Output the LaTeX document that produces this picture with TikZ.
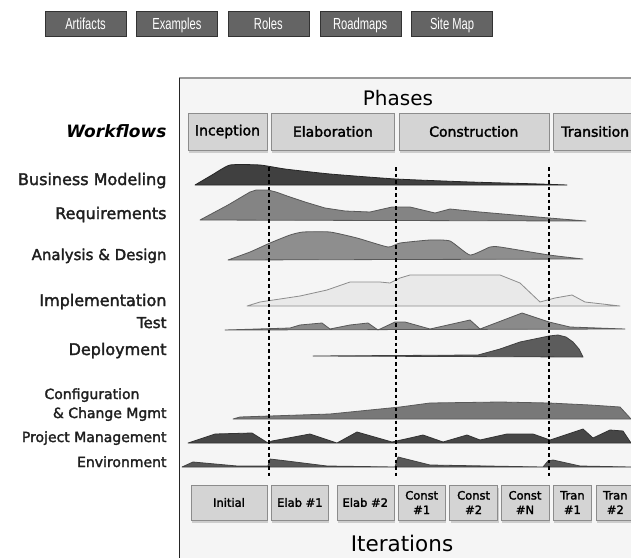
\documentclass[tikz,border=0pt]{standalone}
\usepackage{fontspec}
\setmainfont{DejaVu Sans}
\newfontfamily\btnfont{Liberation Sans}[FakeStretch=0.7]
\newfontfamily\lblfont{DejaVu Sans}[FakeBold=2]
\usetikzlibrary{positioning,shadows}

\definecolor{btngray}{HTML}{646464}
\definecolor{framebg}{HTML}{F5F5F5}
\definecolor{bmc}{HTML}{404040}
\definecolor{reqc}{HTML}{848484}
\definecolor{anc}{HTML}{8E8E8E}
\definecolor{impc}{HTML}{E9E9E9}
\definecolor{testc}{HTML}{8A8A8A}
\definecolor{depc}{HTML}{5C5C5C}
\definecolor{cfgc}{HTML}{787878}
\definecolor{pmc}{HTML}{464646}
\definecolor{envc}{HTML}{585858}

\begin{document}
\begin{tikzpicture}[x=1pt,y=-1pt,
  btn/.style={draw=black!80,fill=btngray,text=white,font=\btnfont\fontsize{16}{18}\selectfont,
    minimum width=81pt,minimum height=25pt,inner sep=0pt,text height=12pt,text depth=0pt},
  phase/.style={draw=black!45,fill=black!17,font=\lblfont\fontsize{14}{16}\selectfont,
    minimum height=37pt,inner sep=0pt,drop shadow={shadow xshift=1pt,shadow yshift=-2.5pt,fill=black!35}},
  iter/.style={phase,font=\lblfont\fontsize{11.5}{14.5}\selectfont,minimum height=35pt,align=center},
  wf/.style={anchor=base east,text=black!88,font=\lblfont\fontsize{16}{18}\selectfont},
  wfsmall/.style={wf,font=\lblfont\fontsize{14}{16}\selectfont},
  milestone/.style={line width=2.8pt,dash pattern=on 3.5pt off 3pt},
  hump/.style={line join=round,line width=0.8pt}]

\clip (0,0) rectangle (631,557);
\fill[white] (0,0) rectangle (631,557);

% menu buttons
\node[btn] (artifacts) at (85.5,23.5) {Artifacts};
\node[btn,right=10pt of artifacts] (examples) {Examples};
\node[btn,right=10pt of examples] (roles) {Roles};
\node[btn,right=10.5pt of roles] (roadmaps) {Roadmaps};
\node[btn,right=10.5pt of roadmaps] (sitemap) {Site Map};

% frame
\fill[framebg] (179,78) rectangle (640,570);
\draw[black!40,line width=1.5pt] (179,78) -- (640,78);
\draw[black!85,line width=1pt] (179,78) -- (179,570);

\node[anchor=base,font=\fontsize{20}{22}\selectfont] (phases) at (398,105) {Phases};

\node[phase,minimum width=79pt] (inception) at (227.5,131.5) {Inception};
\node[phase,minimum width=123pt,right=4pt of inception] (elaboration) {Elaboration};
\node[phase,minimum width=150pt,right=4pt of elaboration] (construction) {Construction};
\node[phase,minimum width=84pt,right=4pt of construction] (transition) {Transition};

\node[anchor=base east,font=\bfseries\itshape\fontsize{17}{19}\selectfont] (workflows) at (170,137) {Workflows};

% workflow labels
\node[wf] (bmlabel) at (170,185) {Business Modeling};
\node[wf] (reqlabel) at (170,219) {Requirements};
\node[wf,font=\lblfont\fontsize{15}{17}\selectfont] (anlabel) at (170,260) {Analysis \& Design};
\node[wf] (implabel) at (170,306) {Implementation};
\node[wf,font=\lblfont\fontsize{15}{17}\selectfont] (testlabel) at (170,328) {Test};
\node[wf] (deplabel) at (170,355) {Deployment};
\node[wfsmall,anchor=base west] (cfglabel) at (41,399) {Configuration};
\node[wfsmall] (cfglabelb) at (170,418) {\& Change Mgmt};
\node[wfsmall] (pmlabel) at (170,442) {Project Management};
\node[wfsmall] (envlabel) at (170,467) {Environment};

% humps
\filldraw[hump,fill=bmc,draw=black!85] plot[smooth,tension=.3] coordinates {(195,185) (212,175) (230,165)
  (260,165) (285,169) (330,174) (396,179) (470,182) (540,184) (567,185)} -- cycle;
\filldraw[hump,fill=reqc,draw=black!65] (200,220) -- (228,205) -- (250,192) -- (256,190) -- (268,190)
  -- (276,192) -- (290,197) -- (305,202) -- (325,208) -- (345,211) -- (370,212) -- (392,207)
  -- (410,207) -- (435,213) -- (450,209) -- (480,212) -- (549,218) -- (586,221) -- cycle;
\filldraw[hump,fill=anc,draw=black!65] plot[smooth,tension=.3] coordinates {(228,260) (250,252) (270,243)
  (290,235) (303,232) (330,232) (357,238) (388,247) (400,243) (430,240) (450,241) (470,255)
  (490,247) (500,247) (549,255) (583,259)} -- cycle;
\filldraw[hump,fill=impc,draw=black!45] (247,306) -- (260,302) -- (300,296) -- (327,290) -- (350,282)
  -- (380,282) -- (390,283) -- (400,278) -- (410,275) -- (500,275) -- (520,283) -- (540,302)
  -- (555,298) -- (572,295) -- (585,302) -- (620,306) -- cycle;
\filldraw[hump,fill=testc,draw=black!65] (225,330) -- (290,328) -- (300,325) -- (322,323) -- (330,329)
  -- (350,325) -- (368,323) -- (378,330) -- (395,322) -- (405,322) -- (430,329) -- (470,320)
  -- (480,329) -- (522,313) -- (549,322) -- (570,327) -- (625,329) -- cycle;
\filldraw[hump,fill=depc,draw=black!75] (313,356) -- (478,355) -- (500,349) -- (520,342) -- (549,336)
  -- (558,335) -- (566,337) -- (573,342) -- (579,349) -- (583,357) -- cycle;
\filldraw[hump,fill=cfgc,draw=black!65] (233,419) -- (240,417) -- (270,416) -- (330,414) -- (400,407)
  -- (430,403) -- (500,402) -- (549,403) -- (590,405) -- (620,407) -- (631,419) -- cycle;
\filldraw[hump,fill=pmc,draw=black!80] (188,443) -- (215,434) -- (252,433) -- (268,443) -- (272,441)
  -- (310,434) -- (337,443) -- (357,432) -- (392,442) -- (410,438) -- (423,435) -- (443,442)
  -- (467,435) -- (480,440) -- (507,434) -- (533,434) -- (550,440) -- (583,429) -- (593,438)
  -- (610,430) -- (623,431) -- (631,443) -- cycle;
\filldraw[hump,fill=envc,draw=black!75] (182,467) -- (193,462) -- (237,466) -- (268,466) -- (270,459)
  -- (287,461) -- (327,466) -- (395,467) -- (398,457) -- (410,460) -- (430,465) -- (543,467)
  -- (548,461) -- (553,460) -- (580,466) -- (631,467) -- cycle;

% phase boundaries
\foreach \x [count=\i] in {269,396,549} {
  \coordinate (top\i) at (\x,167);
  \coordinate (bot\i) at (\x,477);
  \draw[milestone] (top\i) -- (bot\i);
}

% iterations
\node[iter,minimum width=76pt] (initial) at (229,502.5) {Initial};
\node[iter,minimum width=57pt,right=4pt of initial] (elab1) {Elab \#1};
\node[iter,minimum width=57pt,right=8pt of elab1] (elab2) {Elab \#2};
\node[iter,minimum width=47pt,right=4pt of elab2] (const1) {Const\\\#1};
\node[iter,minimum width=48pt,right=4pt of const1] (const2) {Const\\\#2};
\node[iter,minimum width=48pt,right=3pt of const2] (constn) {Const\\\#N};
\node[iter,minimum width=38pt,right=4pt of constn] (tran1) {Tran\\\#1};
\node[iter,minimum width=39pt,right=4pt of tran1] (tran2) {Tran\\\#2};

\node[anchor=base,font=\fontsize{21.5}{24}\selectfont] (iterations) at (402,551) {Iterations};

\end{tikzpicture}
\end{document}
